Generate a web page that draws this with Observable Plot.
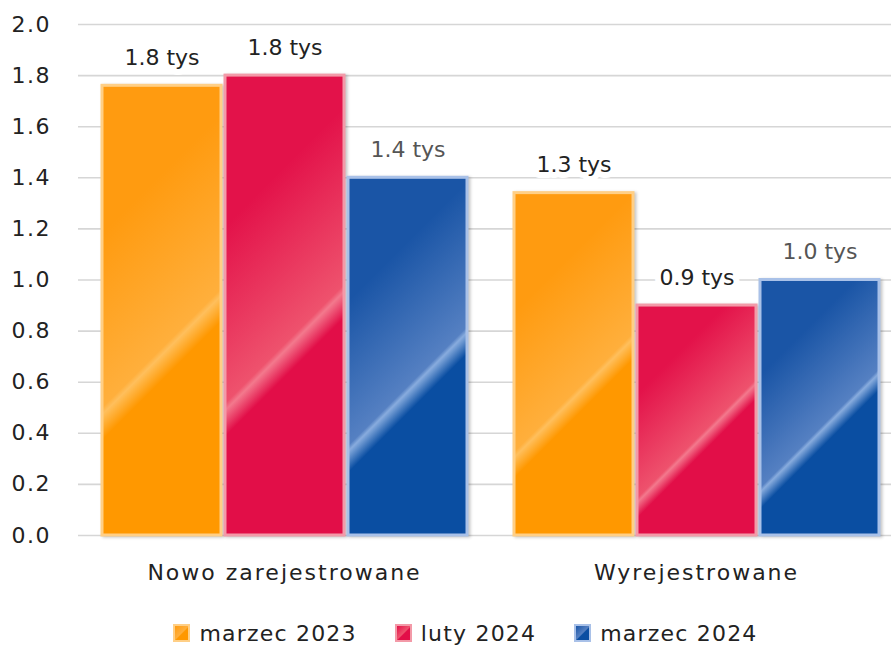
<!DOCTYPE html>
<html>
<head>
<meta charset="utf-8">
<script src="https://cdn.jsdelivr.net/npm/d3@7"></script>
<script src="https://cdn.jsdelivr.net/npm/@observablehq/plot@0.6"></script>
<style>
  html, body { margin: 0; padding: 0; background: #fff; overflow: hidden; }
  body { width: 891px; height: 646px; font-family: "DejaVu Sans", sans-serif; }
  #chart svg { overflow: hidden; display: block; }
  #legend { display: flex; justify-content: center; align-items: center; height: 24px; padding-top: 21px; padding-left: 40px; font-size: 22px; color: #222; letter-spacing: 1.2px; }
  .item { display: flex; align-items: center; margin: 0 19px; }
  .sw { width: 13px; height: 14px; margin-right: 9px; border: 2px solid; }
</style>
</head>
<body>
<div id="chart"></div>
<div id="legend"></div>
<script>
// ---- data ----
const groups = ["Nowo zarejestrowane", "Wyrejestrowane"];
const series = ["marzec 2023", "luty 2024", "marzec 2024"];
const valuesMarzec2023 = [1.76, 1.34];
const valuesLuty2024 = [1.80, 0.90];
const valuesMarzec2024 = [1.40, 1.00];
const yTicks = [0, 0.2, 0.4, 0.6, 0.8, 1.0, 1.2, 1.4, 1.6, 1.8, 2.0];
const unit = "tys";

// ---- styling ----
const seriesStyle = [
  {top: "#ff9b10", light: "#ffaf3c", hi: "#ffbf5c", base: "#ff9800", edge: "#ffcf86", text: "#222"},
  {top: "#e3124a", light: "#ee526d", hi: "#f3798d", base: "#e20e48", edge: "#f39aa8", text: "#222"},
  {top: "#1a55a6", light: "#5580c2", hi: "#88acde", base: "#0a4ea2", edge: "#a9c1e8", text: "#555"}
];

const seriesValues = [valuesMarzec2023, valuesLuty2024, valuesMarzec2024];
const data = [];
groups.forEach((g, gi) => series.forEach((s, si) => data.push({group: g, series: s, si, value: seriesValues[si][gi]})));

const fmt = d3.format(".1f");
const font = "DejaVu Sans, sans-serif";

const marks = [
  Plot.gridY(yTicks, {stroke: "#d6d6d6", strokeOpacity: 1, strokeWidth: 1.6}),
  Plot.axisY(yTicks, {tickSize: 0, tickPadding: 27.5, tickFormat: fmt, fontSize: 22, fill: "#222", label: null}),
  Plot.axisFx({anchor: "bottom", tickSize: 0, tickPadding: 29, fontSize: 22, fill: "#222", label: null})
];
seriesStyle.forEach((st, si) => {
  const d = data.filter(r => r.si === si);
  marks.push(Plot.barY(d, {fx: "group", x: "series", y: "value", fill: st.base, stroke: st.edge, strokeWidth: 3}));
});
seriesStyle.forEach((st, si) => {
  const d = data.filter(r => r.si === si);
  marks.push(Plot.text(d, {fx: "group", x: "series", y: "value", text: r => `${fmt(r.value)} ${unit}`, dy: -28, fontSize: 22, fill: st.text, stroke: "white", strokeWidth: 12, paintOrder: "stroke", lineAnchor: "middle"}));
});

const chart = Plot.plot({
  width: 891,
  height: 600,
  marginTop: 24,
  marginBottom: 65,
  marginLeft: 77,
  marginRight: -11,
  style: {fontFamily: font, fontSize: "22px", color: "#222", background: "white", overflow: "hidden"},
  fx: {domain: groups, paddingInner: 0, paddingOuter: 0},
  x: {domain: series, paddingInner: 0.035, paddingOuter: 0.18, axis: null},
  y: {domain: [0, 2], axis: null},
  marks
});
document.getElementById("chart").appendChild(chart);

// wider lettering for axis labels (closer to the reference typeface)
chart.querySelectorAll('g[aria-label="fx-axis tick label"]').forEach(g => g.style.letterSpacing = "2px");
chart.querySelectorAll('g[aria-label="y-axis tick label"]').forEach(g => g.style.letterSpacing = "1.5px");

// glossy gradient per bar (styling only; computed after the chart is in the page)
const ns = "http://www.w3.org/2000/svg";
const defs = document.createElementNS(ns, "defs");
chart.insertBefore(defs, chart.firstChild);
let gid = 0;
chart.querySelectorAll("rect").forEach(r => {
  let el = r, fill = r.getAttribute("fill");
  while (!fill && el.parentNode && el.parentNode !== chart) { el = el.parentNode; fill = el.getAttribute && el.getAttribute("fill"); }
  const st = seriesStyle.find(s => fill && s.base.toLowerCase() === fill.toLowerCase());
  if (!st) return;
  const bb = r.getBBox();
  const x = bb.x, y = bb.y, w = bb.width, h = bb.height;
  if (!(w > 0 && h > 0)) return;
  const f = 0.6;
  const cx = x + w / 2, cy = y + f * h;
  const k = Math.SQRT1_2;
  const sA = -(w / 2 + f * h) * k, sB = (w / 2 + (1 - f) * h) * k;
  const lg = document.createElementNS(ns, "linearGradient");
  const id = "bg" + (gid++);
  lg.setAttribute("id", id);
  lg.setAttribute("gradientUnits", "userSpaceOnUse");
  lg.setAttribute("x1", cx + sA * k); lg.setAttribute("y1", cy + sA * k);
  lg.setAttribute("x2", cx + sB * k); lg.setAttribute("y2", cy + sB * k);
  const e = -sA / (sB - sA);
  [[0, st.top], [0.45 * e, st.top], [e - 0.012, st.light], [e, st.hi], [e + 0.045, st.base], [1, st.base]].forEach(([o, c]) => {
    const s = document.createElementNS(ns, "stop");
    s.setAttribute("offset", Math.max(0, Math.min(1, o))); s.setAttribute("stop-color", c);
    lg.appendChild(s);
  });
  defs.appendChild(lg);
  r.setAttribute("fill", `url(#${id})`);
  el.style.filter = "drop-shadow(2px 1px 1.5px rgba(0,0,0,0.22))";
});

// legend
const legend = document.getElementById("legend");
series.forEach((s, i) => {
  const st = seriesStyle[i];
  const item = document.createElement("div");
  item.className = "item";
  const sw = document.createElement("span");
  sw.className = "sw";
  sw.style.background = `linear-gradient(135deg, ${st.top} 0%, ${st.light} 50%, ${st.base} 56%, ${st.base} 100%)`;
  sw.style.borderColor = st.edge;
  const t = document.createElement("span");
  t.textContent = s;
  item.appendChild(sw); item.appendChild(t);
  legend.appendChild(item);
});
</script>
</body>
</html>
